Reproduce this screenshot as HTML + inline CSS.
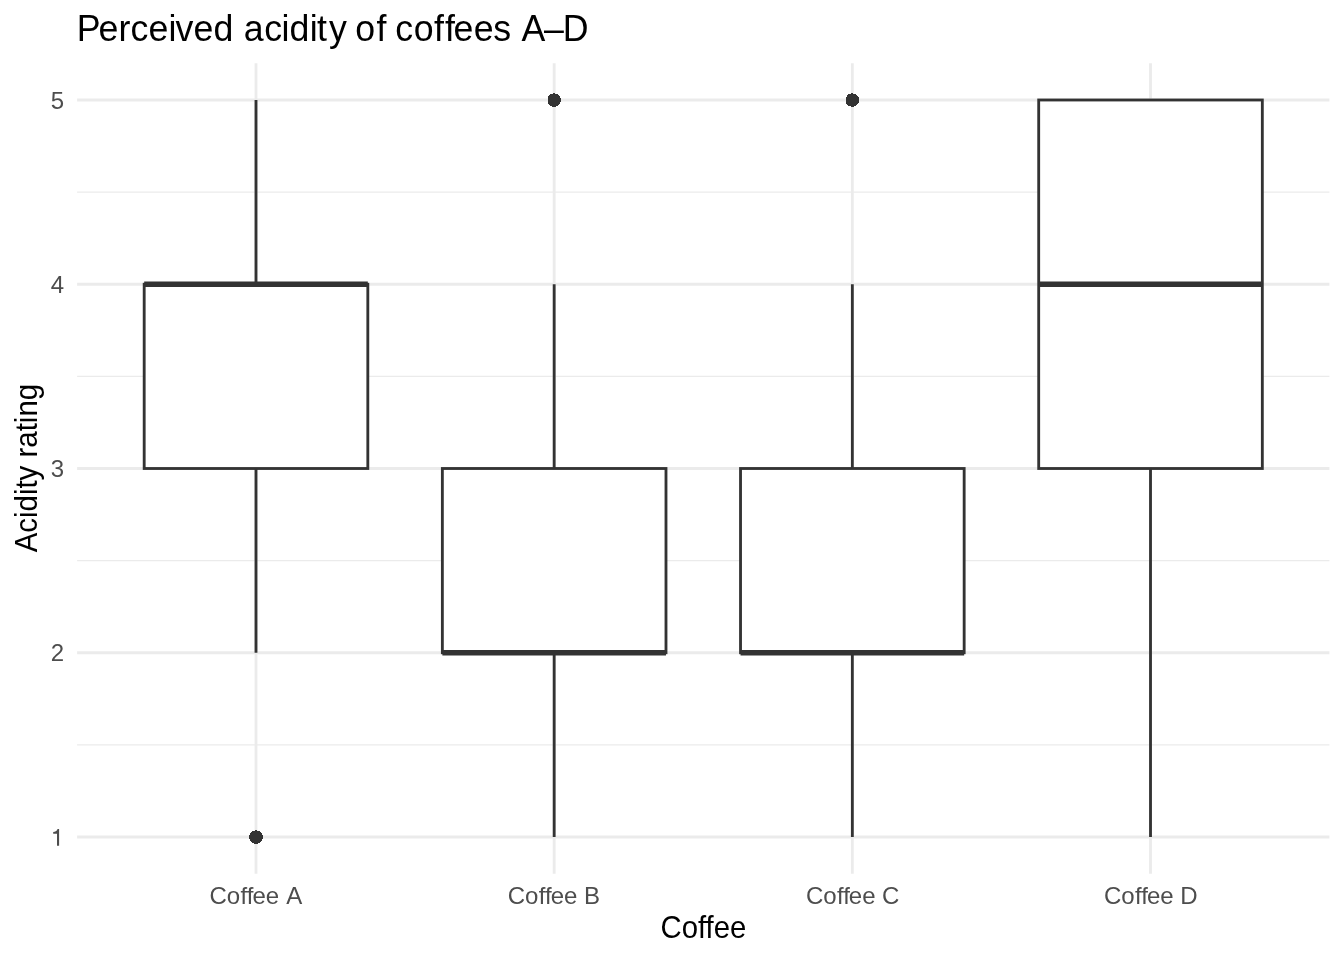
<!DOCTYPE html><html><head><meta charset="utf-8"><style>html,body{margin:0;padding:0;background:#fff;width:1344px;height:960px;overflow:hidden}svg{display:block;will-change:transform}text{font-family:"Liberation Sans",sans-serif}</style></head><body>
<svg width="1344" height="960" viewBox="0 0 1344 960">
<rect width="1344" height="960" fill="#fff"/>
<line x1="77.1" x2="1329.4" y1="744.88" y2="744.88" stroke="#EBEBEB" stroke-width="1.42"/>
<line x1="77.1" x2="1329.4" y1="560.62" y2="560.62" stroke="#EBEBEB" stroke-width="1.42"/>
<line x1="77.1" x2="1329.4" y1="376.38" y2="376.38" stroke="#EBEBEB" stroke-width="1.42"/>
<line x1="77.1" x2="1329.4" y1="192.12" y2="192.12" stroke="#EBEBEB" stroke-width="1.42"/>
<line x1="77.1" x2="1329.4" y1="837.00" y2="837.00" stroke="#EBEBEB" stroke-width="2.84"/>
<line x1="77.1" x2="1329.4" y1="652.75" y2="652.75" stroke="#EBEBEB" stroke-width="2.84"/>
<line x1="77.1" x2="1329.4" y1="468.50" y2="468.50" stroke="#EBEBEB" stroke-width="2.84"/>
<line x1="77.1" x2="1329.4" y1="284.25" y2="284.25" stroke="#EBEBEB" stroke-width="2.84"/>
<line x1="77.1" x2="1329.4" y1="100.00" y2="100.00" stroke="#EBEBEB" stroke-width="2.84"/>
<line x1="256.00" x2="256.00" y1="63.15" y2="873.85" stroke="#EBEBEB" stroke-width="2.84"/>
<line x1="554.17" x2="554.17" y1="63.15" y2="873.85" stroke="#EBEBEB" stroke-width="2.84"/>
<line x1="852.34" x2="852.34" y1="63.15" y2="873.85" stroke="#EBEBEB" stroke-width="2.84"/>
<line x1="1150.51" x2="1150.51" y1="63.15" y2="873.85" stroke="#EBEBEB" stroke-width="2.84"/>
<path d="M255 830h2v1h-2zM252 831h8v1h-8zM251 832h10v1h-10zM250 833h12v1h-12zM250 834h12v1h-12zM249 835h14v1h-14zM249 836h14v1h-14zM249 837h14v1h-14zM249 838h14v1h-14zM250 839h12v1h-12zM250 840h12v1h-12zM251 841h10v1h-10zM252 842h8v1h-8zM254 843h4v1h-4z" fill="#333333" shape-rendering="crispEdges"/>
<line x1="256.00" x2="256.00" y1="284.25" y2="100.00" stroke="#333333" stroke-width="2.84"/>
<line x1="256.00" x2="256.00" y1="468.50" y2="652.75" stroke="#333333" stroke-width="2.84"/>
<rect x="144.19" y="284.25" width="223.63" height="184.25" fill="#fff" stroke="#333333" stroke-width="2.84" stroke-linejoin="miter"/>
<line x1="144.19" x2="367.81" y1="284.25" y2="284.25" stroke="#333333" stroke-width="5.69"/>
<path d="M553 93h2v1h-2zM550 94h8v1h-8zM549 95h10v1h-10zM548 96h12v1h-12zM548 97h12v1h-12zM548 98h13v1h-13zM548 99h13v1h-13zM548 100h13v1h-13zM548 101h13v1h-13zM548 102h12v1h-12zM548 103h12v1h-12zM549 104h10v1h-10zM550 105h8v1h-8zM552 106h4v1h-4z" fill="#333333" shape-rendering="crispEdges"/>
<line x1="554.17" x2="554.17" y1="468.50" y2="284.25" stroke="#333333" stroke-width="2.84"/>
<line x1="554.17" x2="554.17" y1="652.75" y2="837.00" stroke="#333333" stroke-width="2.84"/>
<rect x="442.36" y="468.50" width="223.63" height="184.25" fill="#fff" stroke="#333333" stroke-width="2.84" stroke-linejoin="miter"/>
<line x1="442.36" x2="665.98" y1="652.75" y2="652.75" stroke="#333333" stroke-width="5.69"/>
<path d="M851 93h2v1h-2zM848 94h8v1h-8zM847 95h10v1h-10zM847 96h11v1h-11zM846 97h13v1h-13zM846 98h13v1h-13zM846 99h13v1h-13zM846 100h13v1h-13zM846 101h13v1h-13zM846 102h13v1h-13zM846 103h12v1h-12zM847 104h10v1h-10zM848 105h8v1h-8zM851 106h3v1h-3z" fill="#333333" shape-rendering="crispEdges"/>
<line x1="852.34" x2="852.34" y1="468.50" y2="284.25" stroke="#333333" stroke-width="2.84"/>
<line x1="852.34" x2="852.34" y1="652.75" y2="837.00" stroke="#333333" stroke-width="2.84"/>
<rect x="740.53" y="468.50" width="223.63" height="184.25" fill="#fff" stroke="#333333" stroke-width="2.84" stroke-linejoin="miter"/>
<line x1="740.53" x2="964.15" y1="652.75" y2="652.75" stroke="#333333" stroke-width="5.69"/>
<line x1="1150.51" x2="1150.51" y1="468.50" y2="837.00" stroke="#333333" stroke-width="2.84"/>
<rect x="1038.70" y="100.00" width="223.63" height="368.50" fill="#fff" stroke="#333333" stroke-width="2.84" stroke-linejoin="miter"/>
<line x1="1038.70" x2="1262.32" y1="284.25" y2="284.25" stroke="#333333" stroke-width="5.69"/>
<text x="76.87 98.49 118.53 130.58 148.49 168.61 175.48 193.38 213.50 235.79 243.78 264.28 281.51 289.40 309.81 316.96 329.12 346.85 355.30 376.40 386.54 395.38 413.80 434.10 444.99 453.48 473.79 493.20 510.87 521.63 544.00 562.77" y="41.0" font-size="35.7" fill="#000" transform="translate(0 41.0) scale(1 1.04) translate(0 -41.0)">Perceived acidity of coffees A–D</text>
<text x="64.0" y="661.45" font-size="24" fill="#4D4D4D" text-anchor="end">2</text>
<text x="64.0" y="477.20" font-size="24" fill="#4D4D4D" text-anchor="end">3</text>
<text x="64.0" y="292.95" font-size="24" fill="#4D4D4D" text-anchor="end">4</text>
<text x="64.0" y="108.70" font-size="24" fill="#4D4D4D" text-anchor="end">5</text>
<path d="M59.1 829.10 L59.1 845.70 L57.0 845.70 L57.0 833.80 L53.2 833.80 L53.2 831.95 C55.3 831.95 56.6 831.60 57.6 829.10 Z" fill="#4D4D4D"/>
<text x="209.58 226.81 240.55 246.79 252.51 265.80 280.45 286.25" y="904.2" font-size="24" fill="#4D4D4D">Coffee A</text>
<text x="507.75 524.98 538.72 544.96 550.68 563.97 578.62 583.90" y="904.2" font-size="24" fill="#4D4D4D">Coffee B</text>
<text x="805.92 823.15 836.89 843.13 848.85 862.14 876.79 881.92" y="904.2" font-size="24" fill="#4D4D4D">Coffee C</text>
<text x="1104.09 1121.32 1135.06 1141.30 1147.02 1160.31 1174.96 1180.24" y="904.2" font-size="24" fill="#4D4D4D">Coffee D</text>
<text x="703.4" y="937.8" font-size="29.3" fill="#000" text-anchor="middle" transform="translate(0 937.8) scale(1 1.04) translate(0 -937.8)">Coffee</text>
<text x="0" y="0" font-size="29.45" fill="#000" transform="translate(36.95 552.36) rotate(-90) scale(1 1.04)">Acidity rating</text>
</svg></body></html>
